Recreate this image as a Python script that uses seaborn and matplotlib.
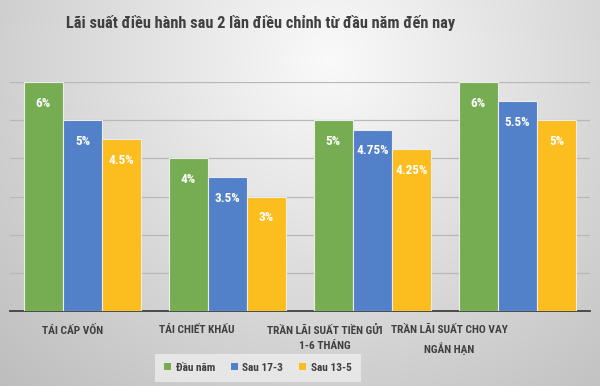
import numpy as np
import pandas as pd
import matplotlib
matplotlib.use("Agg")
import matplotlib.pyplot as plt
import seaborn as sns
from matplotlib.patches import Patch
from matplotlib import font_manager

categories = ["TÁI CẤP VỐN", "TÁI CHIẾT KHẤU", "TRẦN LÃI SUẤT TIỀN GỬI\n1-6 THÁNG", "TRẦN LÃI SUẤT CHO VAY\nNGẮN HẠN"]
series = ["Đầu năm", "Sau 17-3", "Sau 13-5"]
dau_nam = [6, 4, 5, 6]
sau_17_3 = [5, 3.5, 4.75, 5.5]
sau_13_5 = [4.5, 3, 4.25, 5]
labels_dau_nam = ["6%", "4%", "5%", "6%"]
labels_17_3 = ["5%", "3.5%", "4.75%", "5.5%"]
labels_13_5 = ["4.5%", "3%", "4.25%", "5%"]
colors = ["#76AD53", "#5281C9", "#FBBE1E"]

rows = []
for s, vals, labs in zip(series, [dau_nam, sau_17_3, sau_13_5], [labels_dau_nam, labels_17_3, labels_13_5]):
    for c, v, l in zip(categories, vals, labs):
        rows.append({"cat": c, "series": s, "value": v, "label": l})
df = pd.DataFrame(rows)

names = {f.name for f in font_manager.fontManager.ttflist}
cond_candidates = ['Roboto Condensed', 'Open Sans Condensed', 'Liberation Sans Narrow',
                   'Noto Sans Condensed', 'DejaVu Sans Condensed', 'Lato']
narrow = next(n for n in cond_candidates if n in names)
is_cond = narrow != 'Lato'
cat_size = 8.2 if is_cond else 7.2
title_size = 11.8 if is_cond else 10.3

sns.set_theme(style="white")
plt.rcParams['font.family'] = [narrow, 'DejaVu Sans']

fig = plt.figure(figsize=(6, 3.86), dpi=100)
# background gradient
bg = fig.add_axes([0, 0, 1, 1], zorder=-10)
yy, xx = np.mgrid[0:386, 0:600]
d = np.sqrt(((xx - 330) / 400.0) ** 2 + ((yy - 60) / 380.0) ** 2)
img = np.clip(0.98 - 0.2 * d, 0, 1)
bg.imshow(np.dstack([img, img, img]), aspect='auto', extent=[0, 1, 0, 1], origin='upper')
bg.axis('off')

ax = fig.add_axes([10 / 600, 75 / 386, 580 / 600, 229 / 386])
ax.patch.set_alpha(0)
sns.barplot(data=df, x="cat", y="value", hue="series", palette=colors, ax=ax, saturation=1,
            width=0.81, edgecolor="#ececec", linewidth=0.8, legend=False, zorder=3)
ax.set_ylim(0, 6)
ax.set_xlim(-0.5, 3.5)
ax.set_yticks(np.arange(0, 7, 1))
ax.yaxis.grid(True, color="#b8b8b8", linewidth=0.9, zorder=0)
ax.set_axisbelow(True)
ax.tick_params(axis='y', left=False, labelleft=False)
# category labels sit a bit left of the groups in the reference
label_pos = [-0.07, 0.79, 1.67, 2.53]
ax.set_xticks(label_pos, categories)
ax.tick_params(axis='x', bottom=False, pad=4)
for sp in ["top", "right", "left"]:
    ax.spines[sp].set_visible(False)
ax.spines["bottom"].set_color("#404040")
ax.spines["bottom"].set_linewidth(1.3)
ax.set_xlabel("")
ax.set_ylabel("")
for t in ax.get_xticklabels():
    t.set_fontsize(cat_size)
    t.set_fontweight("bold")
    t.set_color("#404040")
    t.set_linespacing(1.6)
    t.set_verticalalignment("top")

for cont, labs in zip(ax.containers, [labels_dau_nam, labels_17_3, labels_13_5]):
    ax.bar_label(cont, labels=labs, padding=-20, color="white", fontsize=9.5, fontweight="bold")

fig.text(0.435, 0.94, "Lãi suất điều hành sau 2 lần điều chỉnh từ đầu năm đến nay",
         ha="center", va="center", fontsize=title_size, fontweight="bold", color="#404040")

handles = [Patch(facecolor=c, edgecolor='none') for c in colors]
leg = fig.legend(handles, series, loc="center", bbox_to_anchor=(0.43, 0.047), ncol=3,
                 frameon=True, fontsize=8.2, handlelength=0.6, handleheight=0.6,
                 handletextpad=0.4, columnspacing=1.4, borderpad=0.5)
leg.get_frame().set_facecolor("#ededed")
leg.get_frame().set_edgecolor("none")
leg.get_frame().set_boxstyle("square")
for t in leg.get_texts():
    t.set_color("#404040")
    t.set_fontweight("bold")

fig.savefig("out.png", dpi=100)
